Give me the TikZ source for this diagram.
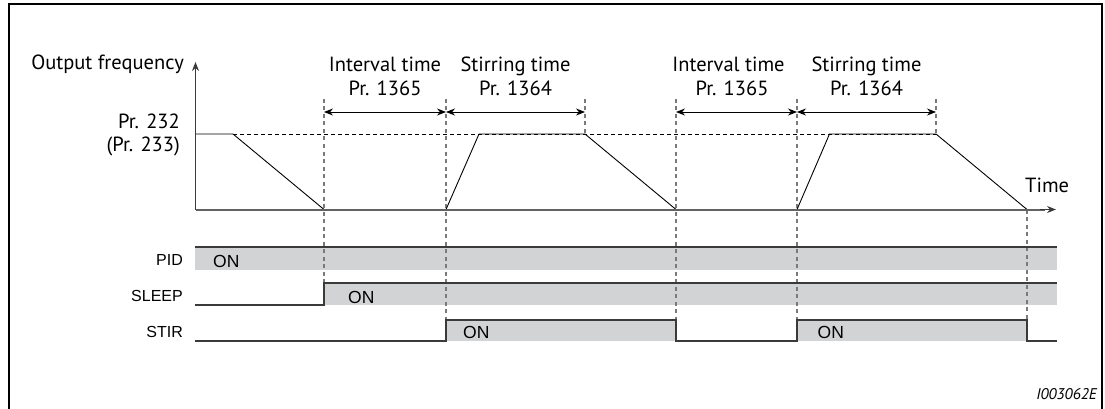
\documentclass[tikz,border=0pt]{standalone}
\usepackage{fontspec}
\setmainfont{PT Sans}
\newfontfamily\arialfont{Liberation Sans}
\usetikzlibrary{arrows.meta}
\definecolor{barfill}{HTML}{D2D3D5}
\definecolor{sigline}{HTML}{3A3A3A}
\definecolor{dashgray}{HTML}{7A7A7A}
\tikzset{
  lbl/.style={font=\fontsize{20.5}{24}\selectfont, inner sep=0pt},
  rowlbl/.style={font=\arialfont\fontsize{16}{19}\selectfont, inner sep=0pt, anchor=base east},
  onlbl/.style={font=\arialfont\fontsize{17.5}{20}\selectfont, inner sep=0pt, anchor=base west},
  guide/.style={dashgray, line width=1.1pt, dash pattern=on 4pt off 3.5pt},
  curve/.style={black, line width=0.9pt},
  span/.style={black, line width=0.9pt, {Stealth[length=9pt,width=7pt]}-{Stealth[length=9pt,width=7pt]}},
  sig/.style={sigline, line width=1.3pt},
  bar/.style={fill=barfill, draw=none}
}
\begin{document}
\begin{tikzpicture}[x=1pt,y=-1pt]
\useasboundingbox (0,0) rectangle (1105,409);
% frame
\draw[black, line width=2pt] (8.5,409) -- (8.5,4) -- (1102,4) -- (1102,409);

% gray bars
\fill[bar] (195,247) rectangle (1057,269.5);
\fill[bar] (324,283) rectangle (1057,305);
\fill[bar] (446,320) rectangle (676,341);
\fill[bar] (797,320) rectangle (1027,341);

% dashed guide lines
\draw[guide] (324,99) -- (324,283);
\draw[guide] (446,99) -- (446,320);
\draw[guide] (585,99) -- (585,134);
\draw[guide] (676,99) -- (676,320);
\draw[guide] (797,99) -- (797,320);
\draw[guide] (936,99) -- (936,134);
\draw[guide] (1027,209.5) -- (1027,320);
\draw[black, line width=0.8pt, dash pattern=on 4pt off 3pt] (233,134) -- (936,134);

% frequency curve
\draw[curve] (195.5,134) -- (233,134) -- (324,209.5);
\draw[curve] (446,209.5) -- (479,134) -- (585,134) -- (676,209.5);
\draw[curve] (797,209.5) -- (829.5,134) -- (936,134) -- (1027,209.5);

% axes
\coordinate (yaxtop) at (195.5,62);
\coordinate (orig) at (195.5,209.5);
\coordinate (xaxend) at (1056,209.5);
\draw[sigline, line width=1.4pt, -{Stealth[length=9pt,width=7pt]}] (orig) -- (yaxtop);
\draw[dashgray!80!black, line width=2pt] (orig) -- (1045,209.5);
\draw[sigline, line width=1.4pt, -{Stealth[length=9pt,width=7pt]}] (1040,209.5) -- (xaxend);

% span arrows
\coordinate (a1) at (324,112); \coordinate (a2) at (446,112);
\coordinate (a3) at (585,112); \coordinate (a4) at (676,112);
\coordinate (a5) at (797,112); \coordinate (a6) at (936,112);
\draw[span] (a1) -- (a2);
\draw[span] (a2) -- (a3);
\draw[span] (a4) -- (a5);
\draw[span] (a5) -- (a6);

% top labels
\node[lbl, anchor=base east] (of) at (184,70) {Output frequency};
\node[lbl, anchor=base] (iv1) at (385,72) {Interval time};
\node[lbl, anchor=base] (iv1p) at (385,95.5) {Pr. 1365};
\node[lbl, anchor=base] (st1) at (515.5,72) {Stirring time};
\node[lbl, anchor=base] (st1p) at (515.5,95.5) {Pr. 1364};
\node[lbl, anchor=base] (iv2) at (728.5,72) {Interval time};
\node[lbl, anchor=base] (iv2p) at (732,95.5) {Pr. 1365};
\node[lbl, anchor=base] (st2) at (866.5,72) {Stirring time};
\node[lbl, anchor=base] (st2p) at (866.5,95.5) {Pr. 1364};
\node[lbl, anchor=base east] (p232) at (180,128.5) {Pr. 232};
\node[lbl, anchor=base east] (p233) at (180,151) {(Pr. 233)};
\node[lbl, anchor=base west] (time) at (1025,192.5) {Time};

% signal rows
\node[rowlbl] (pid) at (183,265) {PID};
\node[rowlbl] (sleep) at (183,301.5) {SLEEP};
\node[rowlbl] (stir) at (183,337.5) {STIR};

\draw[sig] (195,247) -- (1057,247);
\draw[sig] (195,305) -- (324,305) -- (324,283) -- (1057,283);
\draw[sig] (195,341) -- (446,341) -- (446,320) -- (676,320) -- (676,341)
  -- (797,341) -- (797,320) -- (1027,320) -- (1027,341) -- (1057,341);

\node[onlbl] (pidon) at (213,267.5) {ON};
\node[onlbl] (sleepon) at (348,303.5) {ON};
\node[onlbl] (stiron1) at (463,338.5) {ON};
\node[onlbl] (stiron2) at (817.5,338.5) {ON};

% figure code
\node[font=\itshape\fontsize{15.5}{18}\selectfont, inner sep=0pt, anchor=base east] (code) at (1097,399) {I003062E};
\end{tikzpicture}
\end{document}
